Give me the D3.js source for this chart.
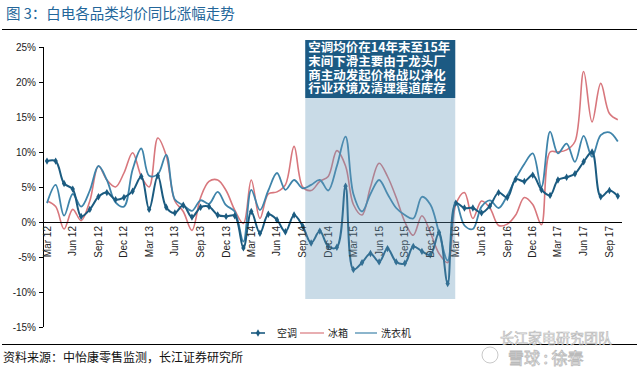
<!DOCTYPE html>
<meta charset="utf-8">
<style>
body {
    margin: 0;
    background: #fff;
}
svg text {
    font-family: "Liberation Sans", Arial, sans-serif;
}
.cjk {
    font-family: "Noto Sans CJK SC", sans-serif;
}
.axis path, .axis line {
    stroke: #000;
    shape-rendering: crispEdges;
}
.axis text {
    font-size: 10px;
    fill: #222;
}
.line {
    fill: none;
}
</style>
<svg width="639" height="369"></svg>

<script src="https://cdn.jsdelivr.net/npm/d3@7/dist/d3.min.js"></script>
<script>
// monthly, Mar 2012 .. Oct 2017
let months = d3.timeMonths(new Date(2012, 2, 1), new Date(2017, 10, 1));

let tickLabels = ['Mar 12', 'Jun 12', 'Sep 12', 'Dec 12', 'Mar 13', 'Jun 13', 'Sep 13', 'Dec 13',
    'Mar 14', 'Jun 14', 'Sep 14', 'Dec 14', 'Mar 15', 'Jun 15', 'Sep 15', 'Dec 15',
    'Mar 16', 'Jun 16', 'Sep 16', 'Dec 16', 'Mar 17', 'Jun 17', 'Sep 17'];

let yTicks = [-15, -10, -5, 0, 5, 10, 15, 20, 25];

// 空调
let aircon = [8.7, 8.7, 5.5, 4.7, 0.8, 1.8, 3.6, 4.2, 3.2, 3.5, 4.4, 6.5,
    1.8, 6.6, 2.1, 1.3, 2.4, 0.7, 2.1, 2.2, 1.0, 0.8, 0.9, -3.7,
    1.5, -1.6, 1.1, 0.3, -1.4, 1.0, -0.6, -3.0, -1.3, -3.5, -3.6, 5.1,
    -6.8, -5.8, -4.5, -5.7, -3.8, -5.7, -5.9, -3.5, -4.2, -4.7, -1.5, -8.8,
    2.7, 2.0, 2.0, 1.3, 2.3, 4.2, 3.5, 6.1, 5.8, 6.7, 4.6, 3.8,
    6.0, 6.4, 6.9, 8.6, 10.0, 3.6, 4.5, 3.7];

// 冰箱
let fridge = [3.0, 2.2, -1.0, 1.8, 0.2, 3.0, 8.0, 6.0, 5.0, 7.0, 9.9, 6.5,
    5.0, 12.0, 9.5, 3.0, 1.5, -1.2, 3.5, 5.8, 6.0, 4.5, 1.7, -0.2,
    6.0, 0.5, 4.0, 4.3, 5.3, 10.8, 5.0, 4.5, 5.8, 6.5, 10.2, 8.0,
    2.5, 1.0, 5.0, 8.4, 6.5, 3.5, 0.0, -1.9, 0.9, -1.5, -4.5, -5.8,
    2.5, 4.2, 0.5, 3.0, 2.0, -0.5, -0.3, 1.0, 3.5, 2.5, -0.4, 10.0,
    10.0, 10.3, 11.5, 21.5, 14.3, 19.8, 15.5, 14.6];

// 洗衣机
let washer = [2.7, 5.3, 0.9, 4.0, 2.2, 4.5, 8.0, 6.0, 2.8, 2.2, 7.5, 10.5,
    6.6, 6.8, 9.6, 3.2, 2.4, 1.6, 3.1, 2.6, 4.3, 2.4, 1.5, -2.8,
    4.6, 1.7, 4.5, 7.0, 4.6, 6.0, 4.8, 5.3, 6.0, 4.5, 8.0, 12.2,
    4.0, 1.5, 4.0, 6.0, 4.0, 2.0, 1.0, 0.5, 3.6, 2.5, -1.5, -5.5,
    2.9, -0.5, -1.0, 2.2, 3.1, 2.0, 3.8, 6.2, 8.3, 9.8, 5.0, 12.9,
    9.8, 11.2, 8.6, 12.3, 9.3, 12.4, 12.8, 11.5];

// highlighted period: Oct 2014 .. Mar 2016, with its note
let bandFrom = new Date(2014, 8, 10), bandTo = new Date(2016, 1, 28);
let note = ['空调均价在14年末至15年', '末间下滑主要由于龙头厂', '商主动发起价格战以净化', '行业环境及清理渠道库存'];

let svg = d3.select('svg');

let x = d3.scaleTime()
    .domain([months[0], months[months.length - 1]])
    .range([47, 617.8]);

let y = d3.scaleLinear()
    .domain([-15, 25])
    .range([327, 47]);

// title and rules
svg.append('text').attr('class', 'cjk')
    .attr('x', 6).attr('y', 19)
    .attr('font-size', 14.5).attr('fill', '#23669a')
    .text('图 3：白电各品类均价同比涨幅走势');

svg.append('line')
    .attr('x1', 2).attr('x2', 637).attr('y1', 29.5).attr('y2', 29.5)
    .attr('stroke', '#000').attr('stroke-width', 1);
svg.append('line')
    .attr('x1', 2).attr('x2', 637).attr('y1', 344.5).attr('y2', 344.5)
    .attr('stroke', '#000').attr('stroke-width', 1);

svg.append('text').attr('class', 'cjk')
    .attr('x', 3).attr('y', 362)
    .attr('font-size', 12).attr('fill', '#111')
    .text('资料来源：中怡康零售监测，长江证券研究所');

// axes
svg.append('g').attr('class', 'axis')
    .attr('transform', 'translate(43,0)')
    .call(d3.axisLeft(y).tickValues(yTicks).tickSize(4).tickSizeOuter(0)
        .tickFormat(d => d + '%'))
    .call(g => g.select('.domain').attr('d', `M0,${y(25)}V${y(-15)}`));

let lineGen = data => d3.line()
    .x((d, i) => x(months[i]))
    .y(d => y(d))
    .curve(d3.curveCatmullRom.alpha(0.5))(data);

svg.append('path').attr('class', 'line')
    .attr('d', lineGen(fridge))
    .attr('stroke', '#d8777d').attr('stroke-width', 1.6);

svg.append('path').attr('class', 'line')
    .attr('d', lineGen(washer))
    .attr('stroke', '#3f84aa').attr('stroke-width', 1.8);

svg.append('path').attr('class', 'line')
    .attr('d', lineGen(aircon))
    .attr('stroke', '#1b5b80').attr('stroke-width', 2);

svg.append('g')
    .selectAll('path')
    .data(aircon)
    .enter().append('path')
        .attr('transform', (d, i) => `translate(${x(months[i])},${y(d)})`)
        .attr('d', d3.symbol(d3.symbolDiamond, 16))
        .attr('fill', '#1b5b80');

// x axis on zero line, labels every quarter
let xAxis = svg.append('g').attr('class', 'axis')
    .attr('transform', `translate(0,${y(0)})`);
xAxis.append('line')
    .attr('x1', 43).attr('x2', 622).attr('y1', 0).attr('y2', 0);
xAxis.selectAll('text')
    .data(tickLabels)
    .enter().append('text')
        .attr('transform', (d, i) => `translate(${x(months[i * 3]) + 3.5},4) rotate(-90)`)
        .attr('text-anchor', 'end')
        .text(d => d);

// shaded band over the lines
svg.append('rect')
    .attr('x', x(bandFrom)).attr('width', x(bandTo) - x(bandFrom))
    .attr('y', y(26)).attr('height', y(-11) - y(26))
    .attr('fill', '#6598ba').attr('fill-opacity', 0.35);

svg.append('rect')
    .attr('x', x(bandFrom)).attr('width', x(bandTo) - x(bandFrom))
    .attr('y', y(26)).attr('height', 58)
    .attr('fill', '#1c5a83');

// the note is one wrapped text block
svg.append('text').attr('class', 'cjk')
    .attr('font-size', 12.5).attr('font-weight', 'bold')
    .attr('fill', '#fff')
    .selectAll('tspan')
    .data(note)
    .enter().append('tspan')
        .attr('x', x(bandFrom) + 3)
        .attr('y', (d, i) => y(26) + 12 + i * 13.8)
        .text(d => d);

// legend
let legend = [
    {name: '空调', color: '#1b5b80', x: 251, w: 14, dot: true},
    {name: '冰箱', color: '#d8777d', x: 300, w: 24},
    {name: '洗衣机', color: '#3f84aa', x: 355, w: 22}
];
let lg = svg.append('g').attr('transform', 'translate(0,333)');
lg.selectAll('line')
    .data(legend)
    .enter().append('line')
        .attr('x1', d => d.x).attr('x2', d => d.x + d.w)
        .attr('stroke', d => d.color).attr('stroke-width', d => d.dot ? 1.6 : 1.2);
lg.append('path')
    .attr('transform', 'translate(258,0)')
    .attr('d', d3.symbol(d3.symbolDiamond, 16))
    .attr('fill', '#1b5b80');
lg.selectAll('text')
    .data(legend)
    .enter().append('text').attr('class', 'cjk')
        .attr('x', d => d.x + d.w + (d.dot ? 12 : 4)).attr('y', 3.5)
        .attr('font-size', 10).attr('fill', '#222')
        .text(d => d.name);

// faint watermark
svg.append('text').attr('class', 'cjk')
    .attr('x', 500).attr('y', 343)
    .attr('font-size', 14).attr('fill', 'none')
    .attr('stroke', '#bbb').attr('stroke-width', 0.7)
    .text('长江家电研究团队');
svg.append('text').attr('class', 'cjk')
    .attr('x', 508).attr('y', 364)
    .attr('font-size', 16).attr('fill', 'none')
    .attr('stroke', '#bbb').attr('stroke-width', 0.8)
    .text('雪球 : 徐春');
svg.append('circle')
    .attr('cx', 490).attr('cy', 355).attr('r', 8)
    .attr('fill', 'none').attr('stroke', '#bbb').attr('stroke-width', 0.8);
</script>
